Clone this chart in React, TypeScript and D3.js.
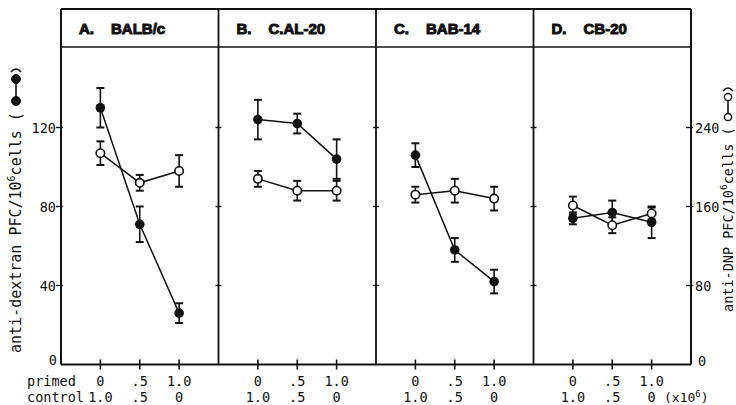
import React from "react";
import * as d3 from "d3";

const panelIds = ["A.", "B.", "C.", "D."];
const strainNames = ["BALB/c", "C.AL-20", "BAB-14", "CB-20"];
const primedFractions = [0, 0.5, 1.0];
const primedLabels = ["0", ".5", "1.0"];
const controlLabels = ["1.0", ".5", "0"];
const leftTicks = [40, 80, 120];
const rightTicks = [80, 160, 240];

// anti-dextran PFC/10^6 cells (filled circles, left axis)
const dextranMean = [
  [130, 71, 26],
  [124, 122, 104],
  [106, 58, 42],
  [74, 77, 72],
];
const dextranErr = [
  [10, 9, 5],
  [10, 5, 10],
  [6, 6, 6],
  [3, 6, 8],
];
// anti-DNP PFC/10^6 cells (open circles, right axis)
const dnpMean = [
  [214, 184, 196],
  [188, 176, 176],
  [172, 176, 168],
  [161, 141, 153],
];
const dnpErr = [
  [12, 8, 16],
  [8, 10, 10],
  [8, 12, 12],
  [9, 8, 6],
];

const W = 736;
const H = 405;
const frameL = 61;
const frameR = 691;
const frameT = 9;
const headerB = 47;
const baseY = 364.5;

export default function App() {
  const panelScale = d3.scaleBand<string>().domain(panelIds).range([frameL, frameR]);
  const yL = d3.scaleLinear().domain([0, 120]).range([baseY, 127.5]);
  const yR = d3.scaleLinear().domain([0, 240]).range([baseY, 127.5]);
  const pw = panelScale.step();
  const mono = "'DejaVu Sans Mono', monospace";
  const black = "#111";
  const r = 4.8;
  const cap = 4;
  const titleFont = "'Liberation Sans', Arial, sans-serif";

  const panels = panelIds.map((id, pi) => {
    const left = panelScale(id)!;
    const x = d3.scaleLinear().domain([-0.5, 1.5]).range([left, left + pw]);
    const dexPts = primedFractions.map((f, i) => ({
      x: x(f),
      y: yL(dextranMean[pi][i]),
      lo: yL(dextranMean[pi][i] - dextranErr[pi][i]),
      hi: yL(dextranMean[pi][i] + dextranErr[pi][i]),
    }));
    const dnpPts = primedFractions.map((f, i) => ({
      x: x(f),
      y: yR(dnpMean[pi][i]),
      lo: yR(dnpMean[pi][i] - dnpErr[pi][i]),
      hi: yR(dnpMean[pi][i] + dnpErr[pi][i]),
    }));
    const line = d3
      .line<{ x: number; y: number }>()
      .x((d) => d.x)
      .y((d) => d.y);
    const errBars = (pts: typeof dexPts, key: string) =>
      pts.map((p, i) => (
        <g key={key + i} stroke={black} strokeWidth={1.6}>
          <line x1={p.x} x2={p.x} y1={p.hi} y2={p.lo} />
          <line x1={p.x - cap} x2={p.x + cap} y1={p.hi} y2={p.hi} strokeWidth={2} />
          <line x1={p.x - cap} x2={p.x + cap} y1={p.lo} y2={p.lo} strokeWidth={2} />
        </g>
      ));
    return (
      <g key={id}>
        {pi > 0 && (
          <line x1={left} x2={left} y1={frameT} y2={baseY} stroke={black} strokeWidth={1.8} />
        )}
        {pi > 0 &&
          leftTicks.map((t) => (
            <line key={t} x1={left - 3} x2={left + 3} y1={yL(t)} y2={yL(t)} stroke={black} strokeWidth={1.4} />
          ))}
        <text
          x={left + 18}
          y={33.5}
          fontFamily={titleFont}
          fontWeight={900}
          fontSize={15}
          fill={black}
          stroke={black}
          strokeWidth={1}
        >
          {id}
        </text>
        <text
          x={left + 50}
          y={33.5}
          fontFamily={titleFont}
          fontWeight={900}
          fontSize={15}
          fill={black}
          stroke={black}
          strokeWidth={1}
        >
          {strainNames[pi]}
        </text>
        {primedFractions.map((f, i) => (
          <g key={"xt" + i}>
            <line x1={x(f)} x2={x(f)} y1={baseY - 5} y2={baseY + 5} stroke={black} strokeWidth={1.6} />
            <text x={x(f)} y={386} textAnchor="middle" fontFamily={mono} fontSize={13.5} fill={black}>
              {primedLabels[i]}
            </text>
            <text x={x(f)} y={402} textAnchor="middle" fontFamily={mono} fontSize={13.5} fill={black}>
              {controlLabels[i]}
            </text>
          </g>
        ))}
        <path d={line(dexPts)!} fill="none" stroke={black} strokeWidth={1.5} />
        <path d={line(dnpPts)!} fill="none" stroke={black} strokeWidth={1.5} />
        {errBars(dexPts, "de")}
        {errBars(dnpPts, "dn")}
        {dexPts.map((p, i) => (
          <circle key={"dc" + i} cx={p.x} cy={p.y} r={r} fill={black} />
        ))}
        {dnpPts.map((p, i) => (
          <circle key={"nc" + i} cx={p.x} cy={p.y} r={r - 0.6} fill="#fff" stroke={black} strokeWidth={1.6} />
        ))}
      </g>
    );
  });

  return (
    <svg
      width={W}
      height={H}
      viewBox={`0 0 ${W} ${H}`}
      style={{ position: "absolute", left: 0, top: 0, background: "#fff" }}
    >
      <rect x={0} y={0} width={W} height={H} fill="#fff" />
      {/* frame */}
      <line x1={frameL} x2={frameR} y1={frameT} y2={frameT} stroke={black} strokeWidth={1.8} />
      <line x1={frameL} x2={frameR} y1={headerB} y2={headerB} stroke={black} strokeWidth={1.6} />
      <line x1={frameL} x2={frameR} y1={baseY} y2={baseY} stroke={black} strokeWidth={2} />
      <line x1={frameL} x2={frameL} y1={frameT} y2={baseY} stroke={black} strokeWidth={2} />
      <line x1={frameR} x2={frameR} y1={frameT} y2={baseY} stroke={black} strokeWidth={2} />
      {panels}
      {/* left axis */}
      {leftTicks.map((t) => (
        <g key={"lt" + t}>
          <line x1={frameL - 5} x2={frameL + 2} y1={yL(t)} y2={yL(t)} stroke={black} strokeWidth={1.4} />
          <text x={frameL - 5} y={yL(t) + 5} textAnchor="end" fontFamily={mono} fontSize={13.5} fill={black}>
            {t}
          </text>
        </g>
      ))}
      <text x={frameL - 4} y={baseY} textAnchor="end" fontFamily={mono} fontSize={13.5} fill={black}>
        0
      </text>
      {/* right axis */}
      {rightTicks.map((t) => (
        <g key={"rt" + t}>
          <line x1={frameR - 5} x2={frameR + 2} y1={yR(t)} y2={yR(t)} stroke={black} strokeWidth={1.4} />
          <text x={frameR + 4} y={yR(t) + 5} textAnchor="start" fontFamily={mono} fontSize={13.5} fill={black}>
            {t}
          </text>
        </g>
      ))}
      <text x={frameR + 7} y={baseY + 1} textAnchor="start" fontFamily={mono} fontSize={13.5} fill={black}>
        0
      </text>
      {/* bottom row labels */}
      <text x={27} y={386} fontFamily={mono} fontSize={13.5} fill={black}>
        primed
      </text>
      <text x={27} y={402} fontFamily={mono} fontSize={13.5} fill={black}>
        control
      </text>
      <text x={664} y={402} fontFamily={mono} fontSize={13} fill={black}>
        (x10<tspan dy={-5} fontSize={9}>6</tspan>
        <tspan dy={5}>)</tspan>
      </text>
      {/* left y label */}
      <text
        transform="translate(21,353) rotate(-90)"
        fontFamily={mono}
        fontSize={15}
        fill={black}
      >
        anti-dextran PFC/10<tspan dy={-6} fontSize={10}>6</tspan>
        <tspan dy={6}>cells (</tspan>
      </text>
      <g stroke={black} fill={black}>
        <line x1={16} x2={16} y1={79} y2={101} strokeWidth={1.6} />
        <circle cx={16} cy={79} r={4.5} />
        <circle cx={16} cy={101} r={4.5} />
        <path d="M11,72 Q16,66 21,72" fill="none" strokeWidth={1.4} />
      </g>
      {/* right y label */}
      <text
        transform="translate(733,312) rotate(-90)"
        fontFamily={mono}
        fontSize={13.5}
        fill={black}
      >
        anti-DNP PFC/10<tspan dy={-6} fontSize={9.5}>6</tspan>
        <tspan dy={6}>cells (</tspan>
      </text>
      <g stroke={black}>
        <line x1={728} x2={728} y1={97} y2={117} strokeWidth={1.6} />
        <circle cx={728} cy={97} r={3.6} fill="#fff" strokeWidth={1.5} />
        <circle cx={728} cy={117} r={3.6} fill="#fff" strokeWidth={1.5} />
        <path d="M723,91 Q728,85 733,91" fill="none" strokeWidth={1.4} />
      </g>
    </svg>
  );
}
